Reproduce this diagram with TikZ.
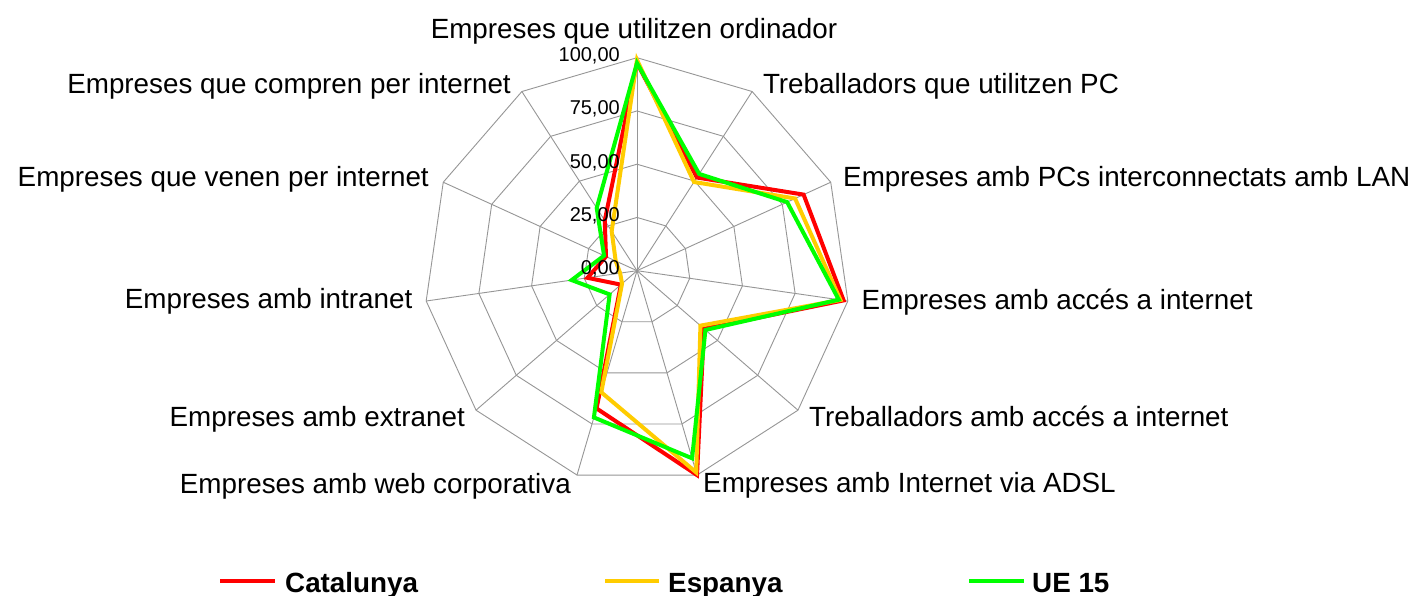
\documentclass[tikz,border=0pt]{standalone}
\usepackage{fontspec}
\setmainfont{Liberation Sans}
\definecolor{gridgray}{RGB}{150,150,150}
\definecolor{catred}{RGB}{255,0,0}
\definecolor{espyel}{RGB}{255,204,0}
\definecolor{uegreen}{RGB}{0,255,0}
\begin{document}
\begin{tikzpicture}[x=1pt,y=1pt,
  gridline/.style={draw=gridgray,line width=0.9pt},
  ser/.style={line width=4pt,line join=miter,miter limit=4},
  axlab/.style={inner sep=0pt,font=\fontsize{27.8}{33}\selectfont},
  vallab/.style={inner sep=0pt,anchor=base east,font=\fontsize{20}{24}\selectfont},
  leglab/.style={inner sep=0pt,anchor=base west,font=\fontsize{27.8}{33}\selectfont\bfseries},
  legline/.style={line width=4pt}]
\useasboundingbox (0,0) rectangle (1413,-596);
\fill[white] (0,0) rectangle (1413,-596);
\begin{scope}[shift={(637,-270.7)}]
  \coordinate (O) at (0,0);
  % spokes
  \foreach \k in {0,...,10}{
    \coordinate (v\k) at ({90-\k*360/11}:213);
    \draw[gridline] (O) -- (v\k);
  }
  % rings
  \foreach \f in {0.25,0.5,0.75,1}{
    \draw[gridline] (90:{\f*213}) \foreach \k in {1,...,10}{ -- ({90-\k*360/11}:{\f*213}) } -- cycle;
  }
  % series
  \draw[ser,catred] (90:{97.5*2.13}) \foreach \v [count=\i] in {52,86,98,41.6,100,67.4,10,23.5,16,28}{ -- ({90-\i*360/11}:{\v*2.13}) } -- cycle;
  \draw[ser,espyel] (90:{99*2.13}) \foreach \v [count=\i] in {49.5,81.6,96.5,39.4,98.7,59.5,9.3,8,11,22}{ -- ({90-\i*360/11}:{\v*2.13}) } -- cycle;
  \draw[ser,uegreen] (90:{97.5*2.13}) \foreach \v [count=\i] in {54,77.5,95.7,42.5,91.8,71.8,17,31,17,35}{ -- ({90-\i*360/11}:{\v*2.13}) } -- cycle;
\end{scope}
% value labels
\node[vallab] (l100) at (620,-61.7) {100,00};
\node[vallab] (l75) at (620,-115) {75,00};
\node[vallab] (l50) at (620,-168.2) {50,00};
\node[vallab] (l25) at (620,-221.4) {25,00};
\node[vallab] (l0) at (620,-274.7) {0,00};
% axis labels
\node[axlab,anchor=base] (a0) at (634,-38.3) {Empreses que utilitzen ordinador};
\node[axlab,anchor=base west] (a1) at (762.8,-93.3) {Treballadors que utilitzen PC};
\node[axlab,anchor=base west] (a2) at (843,-186) {Empreses amb PCs interconnectats amb LAN};
\node[axlab,anchor=base west] (a3) at (861.5,-309.3) {Empreses amb accés a internet};
\node[axlab,anchor=base west] (a4) at (809,-426.7) {Treballadors amb accés a internet};
\node[axlab,anchor=base west] (a5) at (703,-492.7) {Empreses amb Internet via ADSL};
\node[axlab,anchor=base east] (a6) at (571,-493.3) {Empreses amb web corporativa};
\node[axlab,anchor=base east] (a7) at (465,-426.7) {Empreses amb extranet};
\node[axlab,anchor=base east] (a8) at (412.5,-308) {Empreses amb intranet};
\node[axlab,anchor=base east] (a9) at (429,-186) {Empreses que venen per internet};
\node[axlab,anchor=base east] (a10) at (511,-93.3) {Empreses que compren per internet};
% legend
\coordinate (c1a) at (220,-581); \coordinate (c1b) at (275,-581);
\coordinate (c2a) at (605,-581); \coordinate (c2b) at (659,-581);
\coordinate (c3a) at (969,-581); \coordinate (c3b) at (1024,-581);
\draw[legline,catred] (c1a) -- (c1b);
\draw[legline,espyel] (c2a) -- (c2b);
\draw[legline,uegreen] (c3a) -- (c3b);
\node[leglab] (g1) at (285,-592) {Catalunya};
\node[leglab] (g2) at (668,-592) {Espanya};
\node[leglab] (g3) at (1032,-592) {UE 15};
\end{tikzpicture}
\end{document}
